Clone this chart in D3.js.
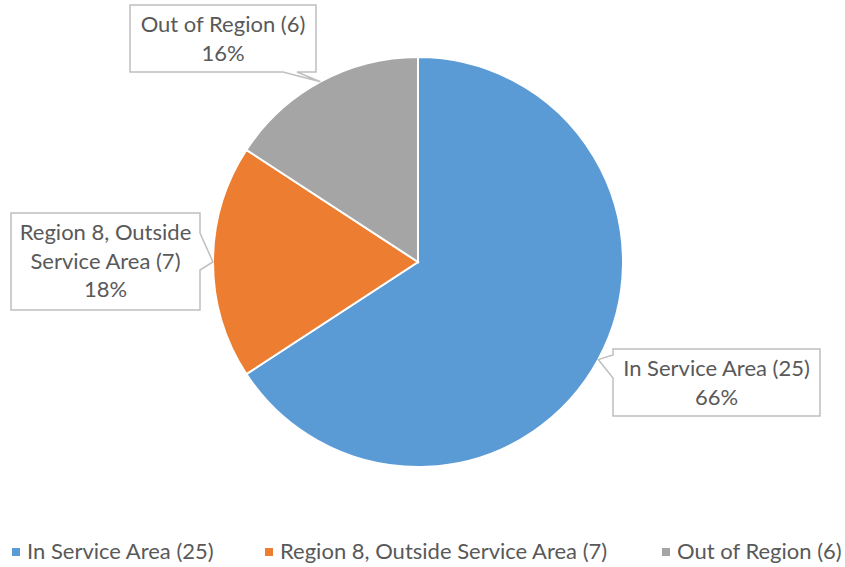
<!DOCTYPE html>
<html>
<head>
<meta charset="utf-8">
<script src="https://cdn.jsdelivr.net/npm/d3@7"></script>
<style>
  body { margin: 0; background: #fff; }
  text { font-family: Lato, "Open Sans", sans-serif; fill: #595959; }
</style>
</head>
<body>
<div id="chart"></div>
<script>
var categories = ["In Service Area", "Region 8, Outside Service Area", "Out of Region"];
var counts = [25, 7, 6];
var colors = ["#5b9bd5", "#ed7d31", "#a5a5a5"];

var width = 845, height = 567;
var cx = 418, cy = 262, r = 205;

var svg = d3.select("#chart").append("svg")
  .attr("width", width)
  .attr("height", height);

var total = d3.sum(counts);
var data = categories.map(function(c, i){
  return { name: c, value: counts[i], color: colors[i] };
});

var pie = d3.pie().sort(null).value(function(d){ return d.value; });
var arc = d3.arc().innerRadius(0).outerRadius(r);
var arcs = pie(data);

var g = svg.append("g").attr("transform", "translate(" + cx + "," + cy + ")");

g.selectAll("path")
  .data(arcs)
  .enter().append("path")
    .attr("d", arc)
    .attr("fill", function(d){ return d.data.color; })
    .attr("stroke", "#fff")
    .attr("stroke-width", 2);

// callout boxes: box rect, side of pointer, base of pointer along that side
var callouts = [
  { x: 11, y: 213, w: 189, h: 97, side: "right", b0: 233, b1: 270,
    lines: ["Region 8, Outside", "Service Area (7)"] },
  { x: 613, y: 349, w: 207, h: 67, side: "left", b0: 355, b1: 378,
    lines: ["In Service Area (25)"] },
  { x: 130, y: 5, w: 186, h: 67, side: "bottom", b0: 283, b1: 297,
    lines: ["Out of Region (6)"] }
];
var calloutFor = [1, 0, 2]; // index in callouts for each slice

arcs.forEach(function(a, i){
  var c = callouts[calloutFor[i]];
  var mid = (a.startAngle + a.endAngle) / 2;
  var tx = cx + r * Math.sin(mid), ty = cy - r * Math.cos(mid);
  var p = d3.path();
  var x0 = c.x, y0 = c.y, x1 = c.x + c.w, y1 = c.y + c.h;
  p.moveTo(x0, y0);
  p.lineTo(x1, y0);
  if (c.side === "right") { p.lineTo(x1, c.b0); p.lineTo(tx, ty); p.lineTo(x1, c.b1); }
  p.lineTo(x1, y1);
  if (c.side === "bottom") { p.lineTo(c.b1, y1); p.lineTo(tx, ty); p.lineTo(c.b0, y1); }
  p.lineTo(x0, y1);
  if (c.side === "left") { p.lineTo(x0, c.b1); p.lineTo(tx, ty); p.lineTo(x0, c.b0); }
  p.closePath();

  svg.append("path")
    .attr("d", p.toString())
    .attr("fill", "#fff")
    .attr("stroke", "#bfbfbf")
    .attr("stroke-width", 1.5);

  var lines = c.lines.concat([Math.round(a.data.value / total * 100) + "%"]);
  var t = svg.append("text")
    .attr("text-anchor", "middle")
    .attr("font-size", 22);
  lines.forEach(function(l, j){
    t.append("tspan")
      .attr("x", c.x + c.w / 2)
      .attr("y", c.y + 27 + j * 28.5)
      .text(l);
  });
});

// legend
var legendX = [12, 265, 662];
var legend = svg.selectAll(".legend")
  .data(data)
  .enter().append("g")
    .attr("class", "legend")
    .attr("transform", function(d, i){ return "translate(" + legendX[i] + ",552)"; });

legend.append("rect")
  .attr("x", 0).attr("y", -4)
  .attr("width", 8).attr("height", 8)
  .attr("fill", function(d){ return d.color; });

legend.append("text")
  .attr("x", 15)
  .attr("y", 7)
  .attr("font-size", 22)
  .text(function(d){ return d.name + " (" + d.value + ")"; });
</script>
</body>
</html>
